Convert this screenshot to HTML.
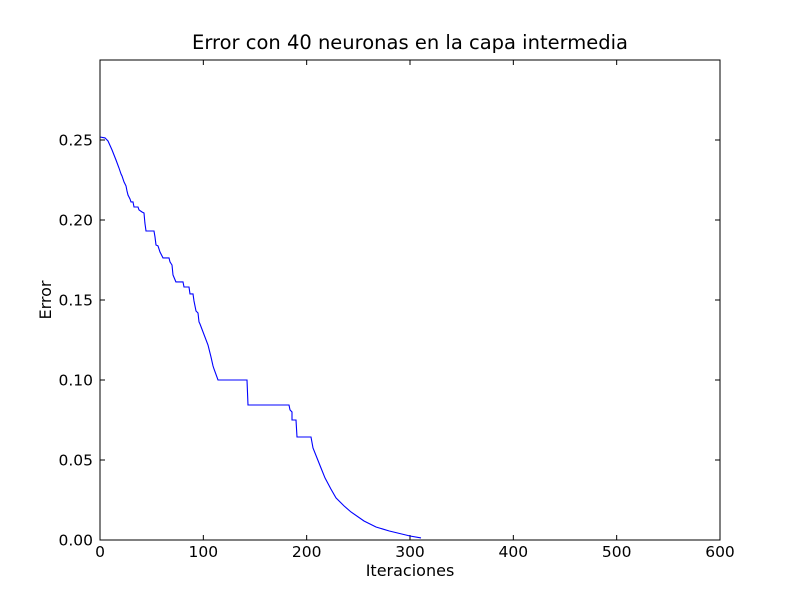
<!DOCTYPE html>
<html><head><meta charset="utf-8"><style>
body{margin:0;background:#fff;}
svg text{font-family:"DejaVu Sans","Liberation Sans",sans-serif;}
</style></head><body>
<svg id="chart" width="800" height="600" xmlns="http://www.w3.org/2000/svg">
<rect width="800" height="600" fill="#fff"/>
<text x="410" y="49" font-size="19.5" text-anchor="middle">Error con 40 neuronas en la capa intermedia</text>
<text x="410" y="576" font-size="16" text-anchor="middle">Iteraciones</text>
<text x="51" y="300" font-size="16" text-anchor="middle" transform="rotate(-90 51 300)">Error</text>
<g id="ticks"></g>
<polyline id="series" fill="none" stroke="#0000ff" stroke-width="1.1"/>
<rect x="100" y="60" width="620" height="480" fill="none" stroke="#000" stroke-width="1"/>
</svg>
<script>
const iterations=[0,4.8,7.7,11.6,15.5,18.4,20.3,21.3,23.2,25.2,26.1,27.1,29,30,31.9,32.9,36.8,37.7,40.6,42.6,43.5,44.5,52.3,53.2,54.2,56.1,58.1,61,66.8,67.7,69.7,70.6,73.5,80.3,81.3,86.1,87.1,90,91,92.9,94.8,95.8,96.8,104.5,107.4,109.4,110.3,114.2,142.3,143.2,182.9,183.9,185.8,185.8,189.7,190.6,204.2,206.1,213.9,217.7,223.5,228.4,236.1,242.9,255.5,267.1,280,300,310.6];
const errors=[.2519,.2513,.2494,.2438,.2375,.2325,.2288,.2275,.2238,.2213,.2181,.2156,.2131,.2113,.2113,.2081,.2081,.2063,.2050,.2044,.1981,.1931,.1931,.1894,.1844,.1838,.18,.1763,.1763,.1738,.1719,.1656,.1613,.1613,.1581,.1581,.1538,.1538,.1494,.1431,.1419,.1363,.135,.1219,.1144,.1088,.1069,.1,.1,.0844,.0844,.0813,.08,.075,.075,.0644,.0644,.0575,.045,.0388,.0319,.0263,.0213,.0175,.0119,.0081,.0056,.0025,.0013];
const xTicks=[0,100,200,300,400,500,600];
const yTicks=[0.00,0.05,0.10,0.15,0.20,0.25];
const X0=100,X1=720,Y0=540,Y1=60,XMAX=600,YMAX=0.3;
const sx=v=>X0+(X1-X0)*v/XMAX;
const sy=v=>Y0-(Y0-Y1)*v/YMAX;
const NS="http://www.w3.org/2000/svg";
const g=document.getElementById('ticks');
function mk(t,a){const e=document.createElementNS(NS,t);for(const k in a)e.setAttribute(k,a[k]);return e;}
xTicks.forEach(v=>{
 const x=sx(v);
 const t1=mk('line',{x1:x,x2:x,y1:540,y2:535,stroke:'#000'});
 
 
 g.appendChild(t1);
 const t2=mk('line',{x1:x,x2:x,y1:60,y2:65,stroke:'#000'});
 
 
 g.appendChild(t2);
 const l=mk('text',{x:x,y:557,'font-size':'15.5','text-anchor':'middle'});
 l.textContent=v;
 
 
 g.appendChild(l);
});
yTicks.forEach(v=>{
 const y=sy(v);
 const t1=mk('line',{x1:100,x2:105,y1:y,y2:y,stroke:'#000'});
 
 
 g.appendChild(t1);
 const t2=mk('line',{x1:715,x2:720,y1:y,y2:y,stroke:'#000'});
 
 
 g.appendChild(t2);
 const l=mk('text',{x:93,y:y+5.5,'font-size':'15.5','text-anchor':'end'});
 l.textContent=v.toFixed(2);
 
 
 g.appendChild(l);
});
document.getElementById('series').setAttribute('points',iterations.map((v,i)=>sx(v).toFixed(1)+','+sy(errors[i]).toFixed(1)).join(' '));
</script>
</body></html>
